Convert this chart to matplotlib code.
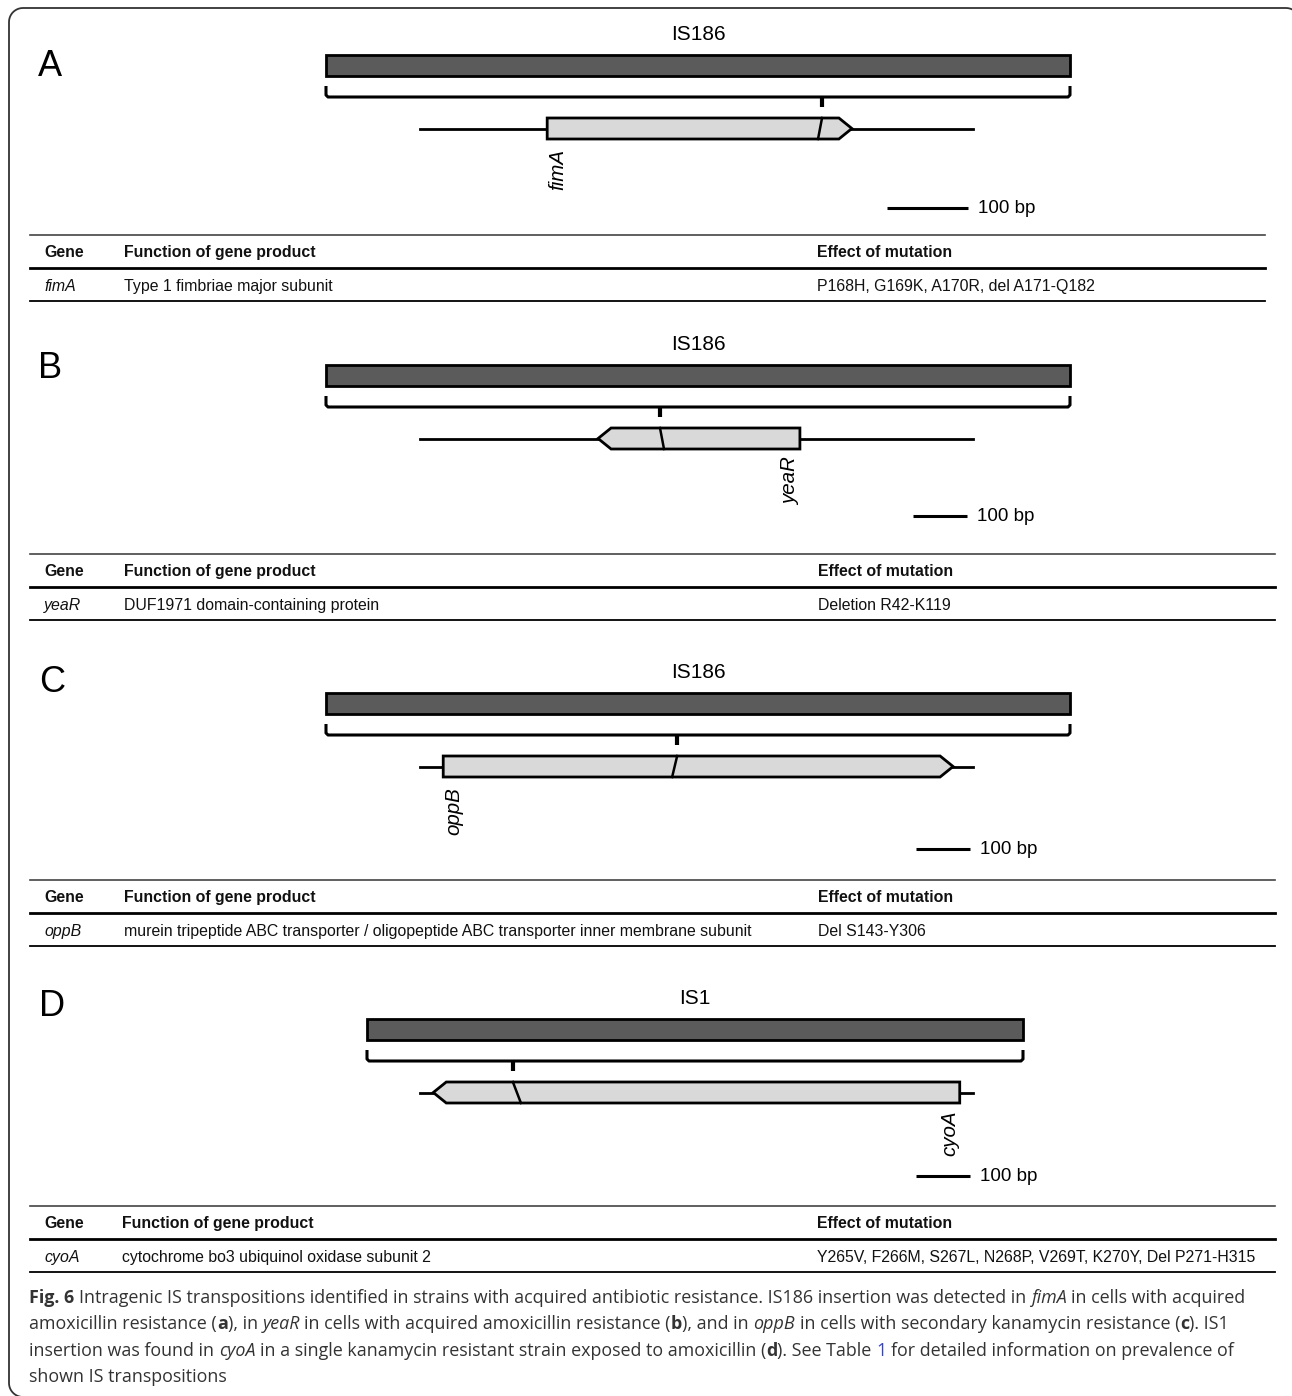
import matplotlib
matplotlib.use("Agg")
import numpy as np
import matplotlib.pyplot as plt
from matplotlib.patches import Rectangle, Polygon

# panel contents
panel_letters = ["A", "B", "C", "D"]
is_names = ["IS186", "IS186", "IS186", "IS1"]
genes = ["fimA", "yeaR", "oppB", "cyoA"]
strands = [1, -1, 1, -1]
# gene extent and insertion site, in locus units (locus = 0..1000)
gene_left = [230, 322, 42, 24]
gene_right = [781, 687, 964, 976]
insert_pos = [727, 434, 465, 168]
scale_len = [146, 98, 98, 98]     # length of the "100 bp" bar, locus units
scale_label = "100 bp"

table_header = ["Gene", "Function of gene product", "Effect of mutation"]
functions = [
    "Type 1 fimbriae major subunit",
    "DUF1971 domain-containing protein",
    "murein tripeptide ABC transporter / oligopeptide ABC transporter inner membrane subunit",
    "cytochrome bo3 ubiquinol oxidase subunit 2",
]
effects = [
    "P168H, G169K, A170R, del A171-Q182",
    "Deletion R42-K119",
    "Del S143-Y306",
    "Y265V, F266M, S267L, N268P, V269T, K270Y, Del P271-H315",
]

caption_lines = [
    [("Fig. 6", "b"),
     (" Intragenic IS transpositions identified in strains with acquired antibiotic resistance. "
      "IS186 insertion was detected in ", "r"), ("fimA", "i"), (" in cells with acquired", "r")],
    [("amoxicillin resistance (", "r"), ("a", "b"), ("), in ", "r"), ("yeaR", "i"),
     (" in cells with acquired amoxicillin resistance (", "r"), ("b", "b"), ("), and in ", "r"),
     ("oppB", "i"), (" in cells with secondary kanamycin resistance (", "r"), ("c", "b"), ("). IS1", "r")],
    [("insertion was found in ", "r"), ("cyoA", "i"),
     (" in a single kanamycin resistant strain exposed to amoxicillin (", "r"), ("d", "b"),
     ("). See Table ", "r"), ("1", "link"), (" for detailed information on prevalence of", "r")],
    [("shown IS transpositions", "r")],
]

# layout (pixels)
W, H = 1292, 1396
letter_xy = [(50, 67), (50, 368), (52, 683), (52, 1006)]
bar_top = [55, 365, 693, 1019]
is_span = [(326, 1070), (326, 1070), (326, 1070), (367, 1023)]
slash_dx = [-4, 4, -5, 8]
scale_end = [991, 989, 995, 995]
scale_y = [208, 516, 849, 1176]
table_top = [235, 554, 880, 1206]
table_right = [1265, 1275, 1275, 1275]
col_x = [[44, 124, 817], [44, 124, 818], [44, 124, 818], [44, 122, 817]]
locus_x0, locus_px = 420, 0.553

sans = ["Liberation Sans", "DejaVu Sans"]
cap_font = ["Open Sans", "DejaVu Sans"]


def ux(u):
    return locus_x0 + u * locus_px


fig = plt.figure(figsize=(W / 100, H / 100), dpi=100)
ax = fig.add_axes([0, 0, 1, 1])
ax.set_xlim(0, W)
ax.set_ylim(H, 0)
ax.axis("off")

# outer frame with rounded corners, running off the right and bottom edges
r = 14
t = np.linspace(0, np.pi / 2, 12)
fx0, fy0, fx1, fy1 = 9, 8, 1300, 1397
frame_x = np.concatenate([[fx1], fx0 + r - r * np.sin(t), fx0 - r * 0 + r - r * np.cos(t),
                          fx1 - r + r * np.sin(t), [fx1]])
frame_y = np.concatenate([[fy1], fy1 - r + r * np.cos(t), fy0 + r - r * np.sin(t),
                          fy0 + r - r * np.cos(t), [fy1]])
ax.plot(frame_x, frame_y, color="#333333", lw=1.3)

for i in range(4):
    top = bar_top[i]
    ax.text(*letter_xy[i], panel_letters[i], fontsize=26, family=sans,
            ha="center", va="center")

    # IS element bar and label
    x0, x1 = is_span[i]
    ax.text((x0 + x1) / 2, top - 21, is_names[i], fontsize=15, family=sans,
            ha="center", va="center")
    ax.add_patch(Rectangle((x0, top), x1 - x0, 21, fc="#5b5b5b", ec="black", lw=2))

    # bracket under the IS bar
    yb = top + 42
    ax.plot([x0, x0, x0 + 2, x1 - 2, x1, x1], [yb - 11, yb - 2, yb, yb, yb - 2, yb - 11],
            color="black", lw=2.2, solid_joinstyle="round", solid_capstyle="butt")
    xi = ux(insert_pos[i])
    ax.plot([xi, xi], [yb, yb + 10], color="black", lw=3, solid_capstyle="butt")

    # locus line and gene arrow
    g_top, g_bot = top + 63, top + 84
    g_mid = (g_top + g_bot) / 2
    ax.plot([ux(0), ux(1000)], [g_mid, g_mid], color="black", lw=2, zorder=1)
    gl, gr = ux(gene_left[i]), ux(gene_right[i])
    tip = 13
    if strands[i] > 0:
        pts = [(gl, g_top), (gr - tip, g_top), (gr, g_mid), (gr - tip, g_bot), (gl, g_bot)]
    else:
        pts = [(gl, g_mid), (gl + tip, g_top), (gr, g_top), (gr, g_bot), (gl + tip, g_bot)]
    ax.add_patch(Polygon(pts, closed=True, fc="#d9d9d9", ec="black", lw=2,
                         joinstyle="miter", zorder=2))
    ax.plot([xi, xi + slash_dx[i]], [g_top, g_bot], color="black", lw=1.8, zorder=3)

    # gene name at gene start
    if strands[i] > 0:
        ax.text(gl + 1, g_bot + 10, genes[i], rotation=90, fontsize=14.8, style="italic",
                family=sans, ha="left", va="top")
    else:
        ax.text(gr, g_bot + 8, genes[i], rotation=90, fontsize=14.8, style="italic",
                family=sans, ha="right", va="top")

    # scale bar
    se = ux(scale_end[i])
    ax.plot([se - scale_len[i] * locus_px, se], [scale_y[i]] * 2, color="black", lw=2.2,
            solid_capstyle="butt")
    ax.text(se + 10, scale_y[i] + 0.5, scale_label, fontsize=13.5, family=sans,
            ha="left", va="center")

    # table
    tt = table_top[i]
    tr = table_right[i]
    ax.plot([30, tr], [tt, tt], color="#444444", lw=1.2)
    ax.plot([30, tr], [tt + 33, tt + 33], color="black", lw=2.0)
    ax.plot([30, tr], [tt + 66, tt + 66], color="black", lw=1.3)
    for c, head in enumerate(table_header):
        ax.text(col_x[i][c], tt + 17.5, head, fontsize=11.45, weight="bold", family=sans,
                ha="left", va="center", color="#111111")
    row = [genes[i], functions[i], effects[i]]
    for c, val in enumerate(row):
        ax.text(col_x[i][c], tt + 51.5, val, fontsize=11.45, family=sans, ha="left",
                va="center", color="#111111", style="italic" if c == 0 else "normal")

# caption with mixed styles
renderer = fig.canvas.get_renderer()
styles = {
    "r": dict(weight="normal", style="normal", color="#333333"),
    "b": dict(weight="bold", style="normal", color="#333333"),
    "i": dict(weight="normal", style="italic", color="#333333"),
    "link": dict(weight="normal", style="normal", color="#3344cc"),
}


def text_w(s, size, st):
    t = ax.text(0, 0, s, fontsize=size, family=cap_font, **styles[st])
    w = t.get_window_extent(renderer).width
    t.remove()
    return w


def draw_line(x, y, pieces, size, draw=True):
    sp = text_w("a a", size, "r") - text_w("aa", size, "r")
    for s, st in pieces:
        lead = len(s) - len(s.lstrip(" "))
        trail = len(s) - len(s.rstrip(" "))
        core = s.strip(" ")
        x += lead * sp
        if draw:
            ax.text(x, y, core, fontsize=size, family=cap_font, ha="left", va="center",
                    **styles[st])
        x += text_w(core, size, st) + trail * sp
    return x


w10 = draw_line(0, 0, caption_lines[0], 10, draw=False)
cap_size = 10 * 1219 / w10
for k, pieces in enumerate(caption_lines):
    draw_line(29, 1298 + k * 26.3, pieces, cap_size)

fig.savefig("out.png", dpi=100)
